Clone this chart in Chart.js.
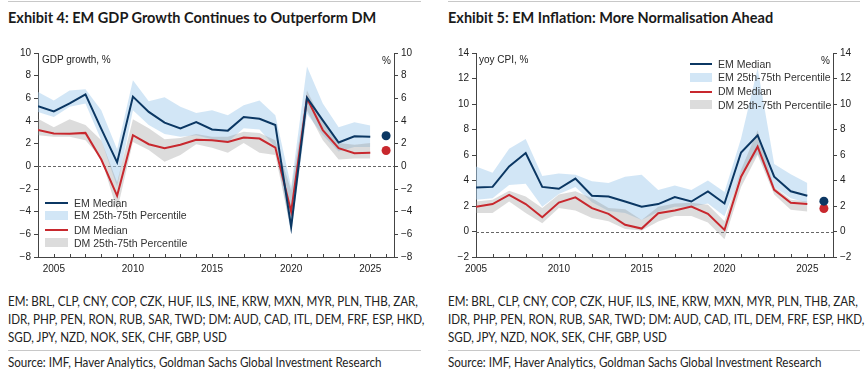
<!DOCTYPE html>
<html>
<head>
<meta charset="utf-8">
<script src="https://cdn.jsdelivr.net/npm/chart.js@4.4.1/dist/chart.umd.min.js"></script>
<style>
  html, body { margin:0; padding:0; background:#fff; }
  body { width:866px; height:379px; position:relative; overflow:hidden; font-family:"Liberation Sans", Arial, sans-serif; color:#222; }
  .rule { position:absolute; height:0; border-top:1px solid #c8c8c8; }
  .title { position:absolute; font-family:Lato, "Open Sans", sans-serif; font-weight:700; font-size:14.5px; color:#1a1a1a; white-space:nowrap; line-height:18px; }
  .box { position:absolute; }
  .lab { position:absolute; font-size:10px; color:#222; white-space:nowrap; line-height:12px; }
  .leg { position:absolute; font-size:10.5px; color:#333; white-space:nowrap; line-height:13px; }
  .sw-line { position:absolute; height:2px; }
  .sw-rect { position:absolute; height:9px; }
  .foot { position:absolute; font-family:Lato, "Open Sans", sans-serif; font-size:12.5px; line-height:18px; color:#222; white-space:nowrap; transform-origin:0 0; }
  .foot span { display:inline-block; }
</style>
</head>
<body>
<div class="rule" style="left:8px; top:1px; width:413px;"></div>
<div class="rule" style="left:448px; top:1px; width:412px;"></div>
<div class="title" style="left:8px; top:9px;">Exhibit 4: EM GDP Growth Continues to Outperform DM</div>
<div class="title" style="left:448px; top:9px;">Exhibit 5: EM Inflation: More Normalisation Ahead</div>

<div class="box" style="left:0; top:40px; width:440px; height:245px;"><canvas id="c1"></canvas></div>
<div class="box" style="left:440px; top:40px; width:426px; height:245px;"><canvas id="c2"></canvas></div>

<div class="lab" style="left:42px; top:54px;">GDP growth, %</div>
<div class="lab" style="left:382px; top:55px;">%</div>
<div class="lab" style="left:479px; top:54px;">yoy CPI, %</div>
<div class="lab" style="left:821px; top:55px;">%</div>

<!-- legend left -->
<div class="sw-line" style="left:45px; top:202px; width:23px; background:#0b3763;"></div>
<div class="leg" style="left:74px; top:197px;">EM Median</div>
<div class="sw-rect" style="left:45px; top:211px; width:23px; background:#d2e6f6;"></div>
<div class="leg" style="left:74px; top:209px;">EM 25th-75th Percentile</div>
<div class="sw-line" style="left:45px; top:229px; width:23px; background:#c8282e;"></div>
<div class="leg" style="left:74px; top:224px;">DM Median</div>
<div class="sw-rect" style="left:45px; top:238px; width:23px; background:#dcdcdc;"></div>
<div class="leg" style="left:74px; top:237px;">DM 25th-75th Percentile</div>

<!-- legend right -->
<div class="sw-line" style="left:690px; top:63px; width:22px; background:#0b3763;"></div>
<div class="leg" style="left:718px; top:58px;">EM Median</div>
<div class="sw-rect" style="left:690px; top:73px; width:22px; background:#d2e6f6;"></div>
<div class="leg" style="left:718px; top:71px;">EM 25th-75th Percentile</div>
<div class="sw-line" style="left:690px; top:91px; width:22px; background:#c8282e;"></div>
<div class="leg" style="left:718px; top:85px;">DM Median</div>
<div class="sw-rect" style="left:690px; top:100px; width:22px; background:#dcdcdc;"></div>
<div class="leg" style="left:718px; top:99px;">DM 25th-75th Percentile</div>

<div class="foot fitA" style="left:8px; top:293px;"><span>EM: BRL, CLP, CNY, COP, CZK, HUF, ILS, INE, KRW, MXN, MYR, PLN, THB, ZAR,</span><br><span>IDR, PHP, PEN, RON, RUB, SAR, TWD; DM: AUD, CAD, ITL, DEM, FRF, ESP, HKD,</span><br><span>SGD, JPY, NZD, NOK, SEK, CHF, GBP, USD</span></div>
<div class="foot fitA" style="left:448px; top:293px;"><span>EM: BRL, CLP, CNY, COP, CZK, HUF, ILS, INE, KRW, MXN, MYR, PLN, THB, ZAR,</span><br><span>IDR, PHP, PEN, RON, RUB, SAR, TWD; DM: AUD, CAD, ITL, DEM, FRF, ESP, HKD,</span><br><span>SGD, JPY, NZD, NOK, SEK, CHF, GBP, USD</span></div>
<div class="rule" style="left:8px; top:350px; width:413px;"></div>
<div class="rule" style="left:448px; top:350px; width:412px;"></div>
<div class="foot fitA" style="left:8px; top:354px;"><span>Source: IMF, Haver Analytics, Goldman Sachs Global Investment Research</span></div>
<div class="foot fitA" style="left:448px; top:354px;"><span>Source: IMF, Haver Analytics, Goldman Sachs Global Investment Research</span></div>

<script>
// ---------- Exhibit 4: GDP growth (%) ----------
const gdpYears    = [2004,2005,2006,2007,2008,2009,2010,2011,2012,2013,2014,2015,2016,2017,2018,2019,2020,2021,2022,2023,2024,2025];
const gdpEmMedian = [5.3,4.85,5.55,6.35,3.3,0.35,6.15,4.8,3.85,3.35,3.9,3.25,3.15,4.35,4.2,3.65,-5.35,6.05,4.05,2.1,2.65,2.6];
const gdpEmP75    = [6.55,5.8,6.7,6.8,4.95,1.5,7.6,5.75,6.1,5.25,4.7,4.95,4.5,5.4,5.8,4.5,-1.8,8.8,5.55,3.45,3.9,3.6];
const gdpEmP25    = [4.8,4.35,5.25,5.55,2.3,-1.8,4.95,3.65,2.85,2.6,2.75,2.4,2.15,3.35,3.25,1.7,-6.0,4.65,2.75,1.3,1.7,1.7];
const gdpDmMedian = [3.2,2.9,2.88,2.95,0.6,-2.6,2.75,1.95,1.6,1.9,2.35,2.3,2.15,2.55,2.45,1.65,-4.0,6.0,3.2,1.6,1.15,1.2];
const gdpDmP75    = [4.2,3.45,4.15,3.65,2.3,-1.4,4.15,3.35,2.4,2.5,2.85,2.6,2.6,3.05,2.95,2.3,-2.1,6.7,3.9,2.05,1.9,2.05];
const gdpDmP25    = [2.75,2.6,2.6,2.3,0.7,-3.9,2.15,1.45,0.4,1.0,1.95,1.65,1.2,2.05,1.2,1.0,-5.7,4.95,2.3,0.6,0.7,0.7];
const gdpDotYear  = [2026];
const gdpEmDot    = [2.7];
const gdpDmDot    = [1.4];
const gdpYTicks   = [-8,-6,-4,-2,0,2,4,6,8,10];

// ---------- Exhibit 5: yoy CPI (%) ----------
const cpiYears    = [2005,2006,2007,2008,2009,2010,2011,2012,2013,2014,2015,2016,2017,2018,2019,2020,2021,2022,2023,2024,2025];
const cpiEmMedian = [3.45,3.5,5.1,6.15,3.5,3.35,4.15,2.8,2.75,2.35,1.95,2.15,2.7,2.35,3.15,2.2,6.2,7.55,4.3,3.15,2.8];
const cpiEmP75    = [5.1,4.6,6.5,7.25,4.35,4.55,4.45,3.95,3.8,4.3,4.45,3.25,3.6,3.25,4.0,3.1,7.3,12.8,5.3,4.5,3.8];
const cpiEmP25    = [2.5,2.6,3.65,3.75,1.95,2.95,3.5,2.3,1.6,1.45,0.9,1.55,1.95,1.95,2.2,1.2,4.55,6.1,3.5,2.6,2.25];
const cpiDmMedian = [1.95,2.15,2.88,2.15,1.12,2.27,2.68,1.83,1.38,0.53,0.23,1.43,1.65,1.95,1.38,0.12,4.3,6.65,3.27,2.25,2.15];
const cpiDmP75    = [2.35,2.5,3.2,2.75,1.85,2.9,3.15,2.6,1.85,1.75,0.9,1.95,2.2,2.25,2.1,0.8,4.85,7.95,3.5,2.5,2.35];
const cpiDmP25    = [1.45,1.45,2.35,1.45,0.65,1.85,1.65,1.05,0.8,0.2,0.08,0.78,1.22,1.22,0.7,-0.6,3.5,6.0,2.9,1.7,1.57];
const cpiDotYear  = [2026];
const cpiEmDot    = [2.38];
const cpiDmDot    = [1.8];
const cpiYTicks   = [-2,0,2,4,6,8,10,12,14];

const EM_LINE = '#0b3763', DM_LINE = '#c8282e';
const EM_FILL = 'rgba(165,205,238,0.5)', DM_FILL = 'rgba(150,150,150,0.33)';
const AXIS = '#444', TXT = '#222';
const FONT = { family: '"Liberation Sans", Arial, sans-serif', size: 10 };

// fit the condensed footnote text to the width it has in the reference
(function(){
  const blocks = document.querySelectorAll('.fitA');
  const first = blocks[0].querySelector('span');
  const k = 410 / first.getBoundingClientRect().width;
  blocks.forEach(b => { b.style.transform = 'scaleX(' + k + ')'; });
})();

function pts(xs, ys){ return xs.map((x,i)=>({x:x, y:ys[i]})); }

const refPlugin = {
  id:'refs',
  beforeDatasetsDraw(chart){
    const {ctx, chartArea:a, scales} = chart;
    const y0 = scales.y.getPixelForValue(0);
    ctx.save();
    ctx.strokeStyle = '#666'; ctx.lineWidth = 1; ctx.setLineDash([3,2]);
    ctx.beginPath(); ctx.moveTo(a.left, Math.round(y0)+0.5); ctx.lineTo(a.right, Math.round(y0)+0.5); ctx.stroke();
    ctx.restore();
  },
  afterDraw(chart){
    const {ctx, chartArea:a, scales} = chart;
    const xs = scales.x;
    ctx.save();
    ctx.strokeStyle = AXIS; ctx.lineWidth = 1;
    for (let yr = Math.ceil(xs.min); yr <= Math.floor(xs.max); yr++){
      const px = Math.round(xs.getPixelForValue(yr)) + 0.5;
      ctx.beginPath(); ctx.moveTo(px, a.bottom); ctx.lineTo(px, a.bottom - 3); ctx.stroke();
    }
    ctx.restore();
  }
};

function makeChart(id, years, emMed, emHi, emLo, dmMed, dmHi, dmLo, dotYear, emDot, dmDot, yTicks, xMin, xMax, leftW, rightW){
  const yMin = yTicks[0], yMax = yTicks[yTicks.length-1];
  const yAxis = (pos, w) => ({
    type:'linear', position:pos, min:yMin, max:yMax,
    afterBuildTicks: s => { s.ticks = yTicks.map(v=>({value:v})); },
    afterFit: s => { s.width = w; },
    grid:{ drawOnChartArea:false, drawTicks:true, tickLength:4, color:AXIS },
    border:{ display:true, color:AXIS, width:1 },
    ticks:{ font:FONT, color:TXT, padding:3, callback: v => (v<0 ? '\u2212'+Math.abs(v) : String(v)) }
  });
  return new Chart(document.getElementById(id), {
    type:'line',
    data:{ datasets:[
      { data:pts(years, emMed), borderColor:EM_LINE, borderWidth:2, pointRadius:0, fill:false, order:0, tension:0 },
      { data:pts(years, dmMed), borderColor:DM_LINE, borderWidth:2, pointRadius:0, fill:false, order:1, tension:0 },
      { data:pts(dotYear, emDot), showLine:false, pointRadius:4.5, pointBackgroundColor:EM_LINE, pointBorderWidth:0, order:0 },
      { data:pts(dotYear, dmDot), showLine:false, pointRadius:4.5, pointBackgroundColor:DM_LINE, pointBorderWidth:0, order:0 },
      { data:pts(years, dmHi), borderWidth:0, borderColor:'rgba(0,0,0,0)', pointRadius:0, backgroundColor:DM_FILL, fill:'+1', order:2 },
      { data:pts(years, dmLo), borderWidth:0, borderColor:'rgba(0,0,0,0)', pointRadius:0, fill:false, order:2 },
      { data:pts(years, emHi), borderWidth:0, borderColor:'rgba(0,0,0,0)', pointRadius:0, backgroundColor:EM_FILL, fill:'+1', order:3 },
      { data:pts(years, emLo), borderWidth:0, borderColor:'rgba(0,0,0,0)', pointRadius:0, fill:false, order:3 }
    ]},
    options:{
      responsive:true, maintainAspectRatio:false, animation:false,
      layout:{ padding:{ top:13, left:0, right:0, bottom:0 } },
      plugins:{ legend:{display:false}, tooltip:{enabled:false} },
      scales:{
        x:{ type:'linear', min:xMin, max:xMax,
            afterBuildTicks: s => { const t=[]; for(let v=2005; v<=2025; v+=5) t.push({value:v}); s.ticks=t; },
            afterFit: s => { s.height = 28; },
            grid:{ drawOnChartArea:false, drawTicks:false },
            border:{ display:true, color:AXIS, width:1 },
            ticks:{ font:FONT, color:TXT, padding:6, maxRotation:0, autoSkip:false, callback:v=>String(v) } },
        y: yAxis('left', leftW),
        y2: yAxis('right', rightW)
      }
    },
    plugins:[refPlugin]
  });
}

makeChart('c1', gdpYears, gdpEmMedian, gdpEmP75, gdpEmP25, gdpDmMedian, gdpDmP75, gdpDmP25, gdpDotYear, gdpEmDot, gdpDmDot, gdpYTicks, 2004, 2026.5, 38, 46);
makeChart('c2', cpiYears, cpiEmMedian, cpiEmP75, cpiEmP25, cpiDmMedian, cpiDmP75, cpiDmP25, cpiDotYear, cpiEmDot, cpiDmDot, cpiYTicks, 2005, 2026.55, 36, 33);
</script>
</body>
</html>
